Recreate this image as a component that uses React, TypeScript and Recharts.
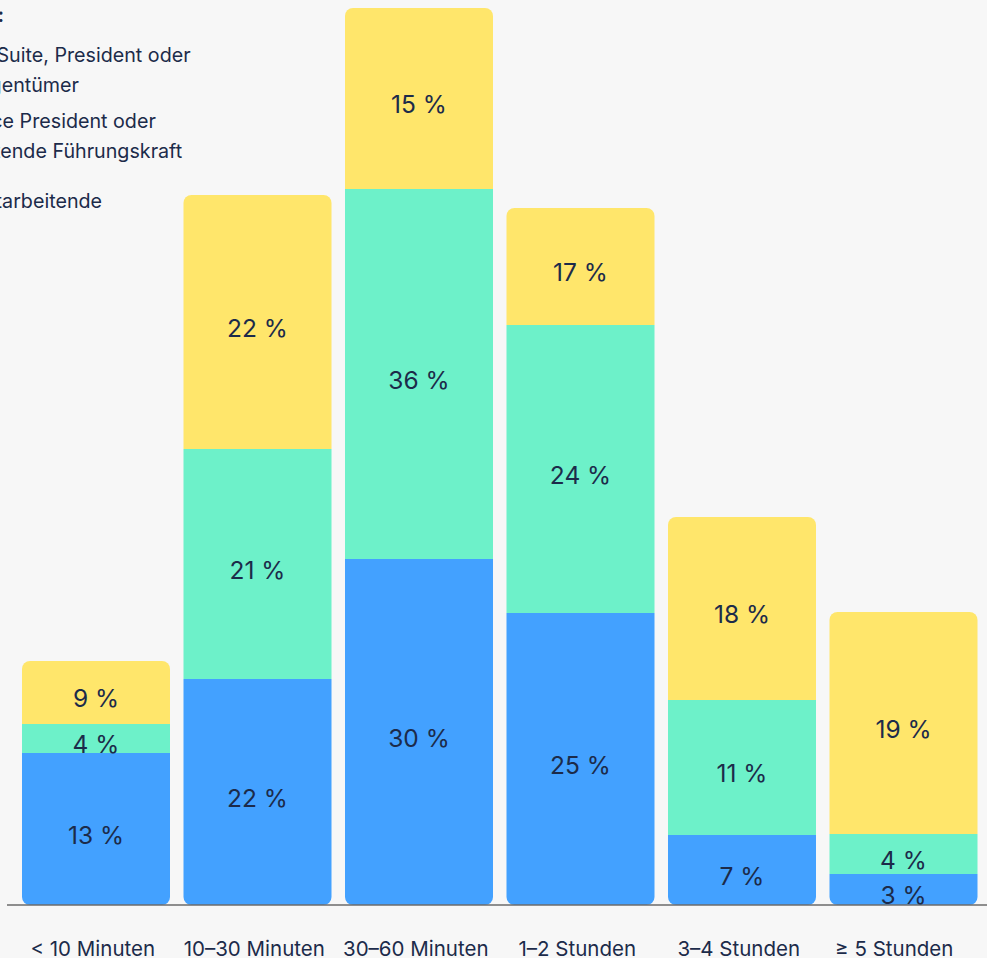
import { BarChart, Bar, XAxis, YAxis, LabelList, Legend } from 'recharts'

const categories = ['< 10 Minuten', '10–30 Minuten', '30–60 Minuten', '1–2 Stunden', '3–4 Stunden', '≥ 5 Stunden']

// Segmenthöhen, wie im Bild gezeichnet (nicht proportional zu den Prozentwerten)
const mitarbeitendeHeight = [15.2, 22.6, 34.6, 29.2, 7.0, 3.1]
const vpHeight = [2.9, 23.0, 37.0, 28.8, 13.5, 4.0]
const cSuiteHeight = [6.3, 25.4, 18.1, 11.7, 18.3, 22.2]

// Beschriftete Prozentwerte
const mitarbeitendePct = [13, 22, 30, 25, 7, 3]
const vpPct = [4, 21, 36, 24, 11, 4]
const cSuitePct = [9, 22, 15, 17, 18, 19]

const seriesNames = {
  cSuite: 'C-Suite, President oder Eigentümer',
  vp: 'Vice President oder leitende Führungskraft',
  mitarbeitende: 'Mitarbeitende',
}
const legendOrder = ['cSuite', 'vp', 'mitarbeitende']

const BLUE = '#43a1ff'
const GREEN = '#6df1c9'
const YELLOW = '#ffe66b'
const TEXT = '#1c2b4a'

const data = categories.map((name, i) => ({
  name,
  mitarbeitende: mitarbeitendeHeight[i],
  vp: vpHeight[i],
  cSuite: cSuiteHeight[i],
  mitarbeitendePct: mitarbeitendePct[i],
  vpPct: vpPct[i],
  cSuitePct: cSuitePct[i],
}))

const itemGaps = [10, 6, 20]

function LegendBox({ payload }: any) {
  const items = legendOrder
    .map((key) => (payload || []).find((p: any) => p.dataKey === key))
    .filter(Boolean)
  return (
    <div style={{ color: TEXT, fontSize: 19.7, lineHeight: '30px' }}>
      <div style={{ width: 64, textAlign: 'right', fontWeight: 600 }}>Rolle:</div>
      {items.map((p: any, i: number) => (
        <div key={p.dataKey} style={{ display: 'flex', alignItems: 'flex-start', marginTop: itemGaps[i] }}>
          <span style={{ width: 16, height: 16, borderRadius: 3, background: p.color, marginTop: 7, marginLeft: 8, marginRight: 9 }} />
          <span style={{ width: 235 }}>{p.value}</span>
        </div>
      ))}
    </div>
  )
}

// Achsenbeschriftung leicht nach links versetzt, die letzte etwas mehr
function Tick({ x, y, payload, index }: any) {
  const shift = index === categories.length - 1 ? -9 : -3
  return (
    <text x={x + shift} y={y} dy="0.71em" textAnchor="middle" fill={TEXT} fontSize={20.5}>
      {payload.value}
    </text>
  )
}

const pctFormat = (v: any) => `${v} %`
const labelProps = { position: 'center' as const, formatter: pctFormat, fill: TEXT, fontSize: 24.5, dy: 6 }

export default function App() {
  return (
    <div style={{ position: 'absolute', left: 0, top: 0, width: 987, height: 958, overflow: 'hidden', background: '#f7f7f7', fontFamily: 'Inter, sans-serif' }}>
      <BarChart width={987} height={958} data={data} margin={{ top: 5, right: 0, bottom: 0, left: 7 }} barSize={148}>
        <XAxis
          dataKey="name"
          interval={0}
          tickLine={false}
          tickMargin={30}
          height={53}
          padding={{ left: 8, right: 3 }}
          axisLine={{ stroke: '#6b6b6b', strokeWidth: 1.5 }}
          tick={<Tick />}
        />
        <YAxis hide domain={[0, 90]} />
        <Legend
          layout="vertical"
          align="center"
          verticalAlign="middle"
          content={<LegendBox />}
          wrapperStyle={{ left: -60, top: 0, width: 320, height: 230 }}
        />
        <Bar dataKey="mitarbeitende" name={seriesNames.mitarbeitende} stackId="a" fill={BLUE} radius={[0, 0, 8, 8]} isAnimationActive={false}>
          <LabelList dataKey="mitarbeitendePct" {...labelProps} />
        </Bar>
        <Bar dataKey="vp" name={seriesNames.vp} stackId="a" fill={GREEN} isAnimationActive={false}>
          <LabelList dataKey="vpPct" {...labelProps} />
        </Bar>
        <Bar dataKey="cSuite" name={seriesNames.cSuite} stackId="a" fill={YELLOW} radius={[8, 8, 0, 0]} isAnimationActive={false}>
          <LabelList dataKey="cSuitePct" {...labelProps} />
        </Bar>
      </BarChart>
    </div>
  )
}
